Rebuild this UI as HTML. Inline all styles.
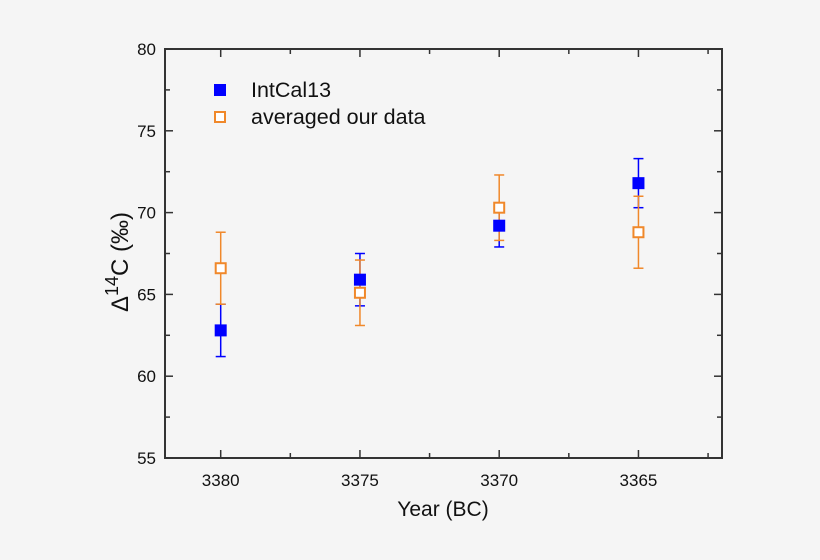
<!DOCTYPE html>
<html><head><meta charset="utf-8"><style>
body{margin:0;background:#f5f5f5;}
svg{display:block;font-family:"Liberation Sans",Arial,sans-serif;}
</style></head><body>
<svg id="chart" width="820" height="560" viewBox="0 0 820 560" xmlns="http://www.w3.org/2000/svg">
<rect width="820" height="560" fill="#f5f5f5"/>
<g id="axes"></g>
<g id="marks"></g>
<g>
<rect x="214" y="84" width="12" height="12" fill="#0000ff"/>
<text x="251" y="97" font-size="21.5" fill="#111">IntCal13</text>
<rect x="215" y="112" width="10" height="10" fill="#fff" stroke="#f0882a" stroke-width="2"/>
<text x="251" y="124" font-size="21.5" fill="#111">averaged our data</text>
</g>
<text x="443" y="516" font-size="21" text-anchor="middle" fill="#111">Year (BC)</text>
<text transform="translate(128,262) rotate(-90)" font-size="24" text-anchor="middle" fill="#111">Δ<tspan dy="-10" font-size="18">14</tspan><tspan dy="10">C (‰)</tspan></text>
</svg>
<script>
const years=[3380,3375,3370,3365];
const intcal=[62.8,65.9,69.2,71.8];
const intcalErr=[1.6,1.6,1.3,1.5];
const ours=[66.6,65.1,70.3,68.8];
const oursErr=[2.2,2.0,2.0,2.2];
const yTicks=[55,60,65,70,75,80];
const xTicks=[3380,3375,3370,3365];
const L=165,R=722,T=49,B=458;
const X0=3382,X1=3362,Y0=55,Y1=80;
const xs=v=>L+(v-X0)/(X1-X0)*(R-L);
const ys=v=>B-(v-Y0)/(Y1-Y0)*(B-T);
const NS="http://www.w3.org/2000/svg";
function mk(parent,tag,attrs){const e=document.createElementNS(NS,tag);for(const k in attrs)e.setAttribute(k,attrs[k]);parent.appendChild(e);return e;}
const ax=document.getElementById('axes');
let f=mk(ax,'rect',{x:L,y:T,width:R-L,height:B-T,fill:'none',stroke:'#333','stroke-width':2});


for(let v=55;v<=80;v+=2.5){const y=ys(v);const maj=Math.abs(v%5)<1e-6;const len=maj?8:5;
 let t=mk(ax,'line',{x1:L,x2:L+len,y1:y,y2:y,stroke:'#333','stroke-width':1.5});
 
 
 let t2=mk(ax,'line',{x1:R,x2:R-len,y1:y,y2:y,stroke:'#333','stroke-width':1.5});
 
 }
yTicks.forEach(v=>{let t=mk(ax,'text',{x:L-9,y:ys(v)+6,'font-size':17,'text-anchor':'end',fill:'#111'});t.textContent=v;
 
 });
for(let v=3380;v>=3362.5;v-=2.5){const x=xs(v);const maj=Math.abs(v%5)<1e-6;const len=maj?8:5;
 let t=mk(ax,'line',{x1:x,x2:x,y1:B,y2:B-len,stroke:'#333','stroke-width':1.5});
 
 
 let t2=mk(ax,'line',{x1:x,x2:x,y1:T,y2:T+len,stroke:'#333','stroke-width':1.5});
 
 }
xTicks.forEach(v=>{let t=mk(ax,'text',{x:xs(v),y:B+28,'font-size':17,'text-anchor':'middle',fill:'#111'});t.textContent=v;
 
 });
const mg=document.getElementById('marks');
function err(x,v,e,col){const g=mk(mg,'g',{stroke:col,'stroke-width':1.5});
 
 
 mk(g,'line',{x1:x,x2:x,y1:ys(v-e),y2:ys(v+e)});
 mk(g,'line',{x1:x-5,x2:x+5,y1:ys(v-e),y2:ys(v-e)});
 mk(g,'line',{x1:x-5,x2:x+5,y1:ys(v+e),y2:ys(v+e)});}
years.forEach((yr,i)=>{err(xs(yr),intcal[i],intcalErr[i],'#0000ff');err(xs(yr),ours[i],oursErr[i],'#f0882a');});
years.forEach((yr,i)=>{const x=xs(yr);
 let p=mk(mg,'rect',{x:x-6,y:ys(intcal[i])-6,width:12,height:12,fill:'#0000ff'});
 
 });
years.forEach((yr,i)=>{const x=xs(yr);
 let p=mk(mg,'rect',{x:x-5,y:ys(ours[i])-5,width:10,height:10,fill:'#fff',stroke:'#f0882a','stroke-width':2});
 
 });
</script>
</body></html>
